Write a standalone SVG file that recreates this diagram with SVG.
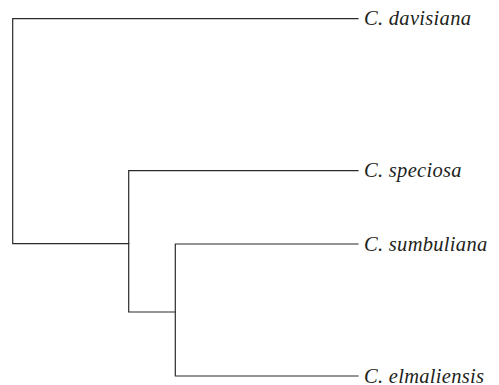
<svg xmlns="http://www.w3.org/2000/svg" width="499" height="385" viewBox="0 0 499 385">
<style>
.br{fill:none;stroke:#2b2b2b;stroke-width:1.2;stroke-linecap:square}
.lb{font-family:"Liberation Serif","Times New Roman",serif;font-style:italic;font-size:20.5px;letter-spacing:0.3px;fill:#231f20}
</style>
<rect width="499" height="385" fill="#fff"/>
<g id="connectors">
<path class="br" d="M358,18.7 H12.7 V243.7 H128.7"/>
<path class="br" d="M358,170.7 H128.7 V312 H175.3"/>
<path class="br" d="M358,244 H175.3 V376 H358"/>
</g>
<g id="davisiana"><text class="lb" x="364" y="25">C. davisiana</text></g>
<g id="speciosa"><text class="lb" x="364" y="177">C. speciosa</text></g>
<g id="sumbuliana"><text class="lb" x="364" y="250.5">C. sumbuliana</text></g>
<g id="elmaliensis"><text class="lb" x="364" y="382.5">C. elmaliensis</text></g>
</svg>
